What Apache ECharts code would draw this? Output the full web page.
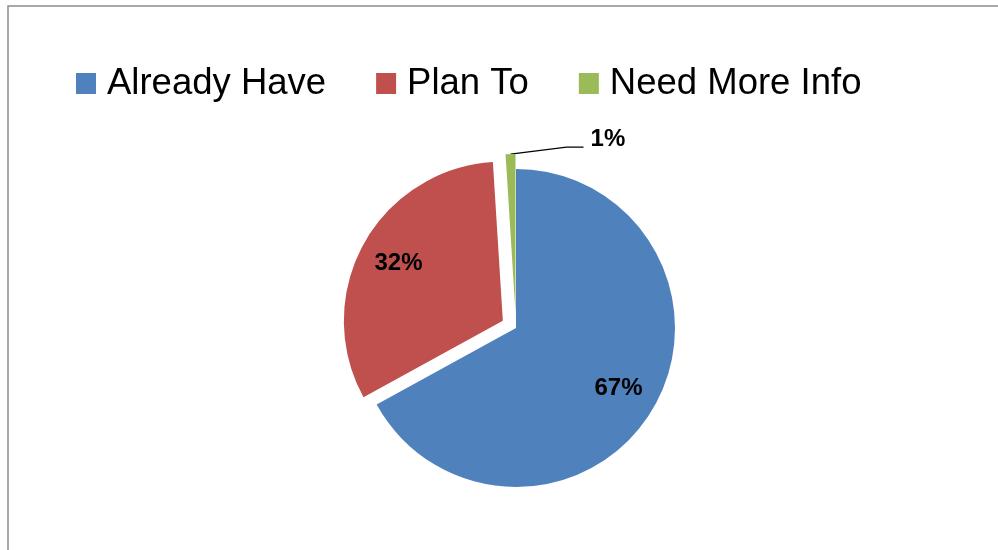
<!DOCTYPE html>
<html>
<head>
<meta charset="utf-8">
<script src="https://cdn.jsdelivr.net/npm/echarts@6/dist/echarts.min.js"></script>
<style>html,body{margin:0;padding:0;background:#fff;}#c{width:998px;height:550px;}</style>
</head>
<body>
<div id="c"></div>
<script>
const categories = ['Already Have', 'Plan To', 'Need More Info'];
const values = [67, 32, 1];
const colors = ['#4F81BD', '#C0504D', '#9BBB59'];
const exploded = [false, true, true];

const chart = echarts.init(document.getElementById('c'), null, {renderer: 'canvas'});
const FONT = 'Liberation Sans, Arial, sans-serif';
const center = [516, 328];
const R = 159;

const mainData = categories.map((n, i) => ({
  name: n,
  value: values[i],
  selected: exploded[i],
  itemStyle: {color: colors[i]},
  select: {itemStyle: {color: colors[i], borderWidth: 0}},
  label: i === 2 ? {
    show: true, position: 'outside', formatter: '{d}%',
    color: '#000', fontWeight: 'bold', fontSize: 24, fontFamily: FONT
  } : {show: false},
  labelLine: i === 2 ? {show: true, length: 4, length2: 20, lineStyle: {color: '#000', width: 1.2}} : {show: false}
}));

const labelData = categories.map((n, i) => ({
  name: n,
  value: values[i],
  selected: exploded[i],
  itemStyle: {color: 'rgba(0,0,0,0)'},
  select: {itemStyle: {color: 'rgba(0,0,0,0)', borderWidth: 0}},
  label: {show: i !== 2}
}));

chart.setOption({
  animation: false,
  backgroundColor: '#fff',
  graphic: [{
    type: 'rect', silent: true,
    shape: {x: 8, y: 6, width: 1200, height: 800},
    style: {fill: 'none', stroke: '#8c8c8c', lineWidth: 1.5}
  }],
  legend: {
    data: categories,
    left: 71, top: 60,
    itemWidth: 20, itemHeight: 21,
    itemGap: 50,
    icon: 'rect',
    selectedMode: false,
    textStyle: {fontSize: 36.5, fontFamily: FONT, color: '#000', padding: [0, 0, 0, 6]}
  },
  series: [{
    type: 'pie',
    center: center,
    radius: [0, R],
    startAngle: 90,
    clockwise: true,
    selectedMode: 'multiple',
    selectedOffset: 15,
    avoidLabelOverlap: false,
    emphasis: {disabled: true},
    silent: true,
    itemStyle: {borderWidth: 0},
    labelLayout: function (p) {
      if (p.dataIndex !== 2 || !p.labelLinePoints) return {};
      const s = p.labelLinePoints[0];
      const r = p.labelRect;
      return {
        dx: (s[0] + 80) - r.x,
        dy: (s[1] - 15) - (r.y + r.height / 2),
        labelLinePoints: [s, [s[0] + 56, s[1] - 7], [s[0] + 73, s[1] - 7]]
      };
    },
    data: mainData
  }, {
    type: 'pie',
    center: center,
    radius: [0, R * 1.46],
    startAngle: 90,
    clockwise: true,
    selectedMode: 'multiple',
    selectedOffset: 15,
    silent: true,
    emphasis: {disabled: true},
    label: {
      position: 'inside', formatter: '{d}%',
      color: '#000', fontWeight: 'bold', fontSize: 24, fontFamily: FONT
    },
    labelLine: {show: false},
    data: labelData
  }]
});
</script>
</body>
</html>
